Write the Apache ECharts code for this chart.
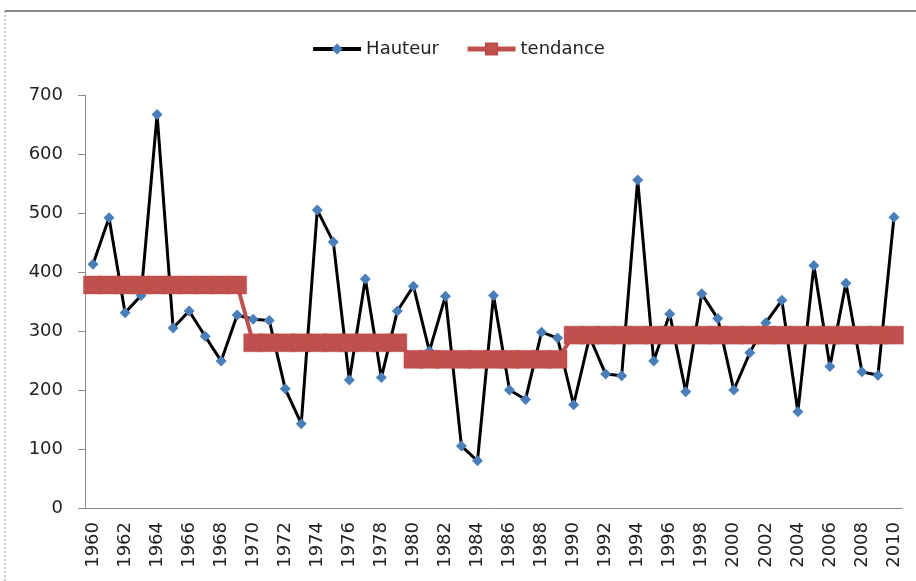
<!DOCTYPE html>
<html>
<head>
<meta charset="utf-8">
<script src="https://cdn.jsdelivr.net/npm/echarts@6/dist/echarts.min.js"></script>
<style>
  html, body { margin: 0; padding: 0; background: #fff; }
  #main { width: 916px; height: 581px; }
</style>
</head>
<body>
<div id="main"></div>
<script>
// annees 1960 - 2010
var years = [];
for (var y = 1960; y <= 2010; y++) years.push(String(y));

var hauteur = [
  413, 492, 331, 360, 667, 305, 334, 291, 249, 327,
  320, 318, 202, 143, 505, 451, 217, 388, 221, 334,
  376, 266, 359, 105, 80, 360, 200, 184, 298, 288,
  175, 290, 227, 224, 556, 249, 329, 197, 363, 321,
  200, 263, 314, 352, 163, 411, 240, 381, 231, 225, 493
];

// tendance par periode
var tendance = [
  378, 378, 378, 378, 378, 378, 378, 378, 378, 378,
  280, 280, 280, 280, 280, 280, 280, 280, 280, 280,
  252, 252, 252, 252, 252, 252, 252, 252, 252, 252,
  293, 293, 293, 293, 293, 293, 293, 293, 293, 293,
  293, 293, 293, 293, 293, 293, 293, 293, 293, 293, 293
];

var yTicks = { min: 0, max: 700, interval: 100 };

var font = 'DejaVu Sans';
var chart = echarts.init(document.getElementById('main'));

var option = {
  animation: false,
  backgroundColor: '#fff',
  graphic: [
    { type: 'line', shape: { x1: 5, y1: 11, x2: 916, y2: 11 },
      style: { stroke: '#8a8a8a', lineWidth: 2 } },
    { type: 'line', shape: { x1: 5, y1: 11, x2: 5, y2: 581 },
      style: { stroke: '#9a9a9a', lineWidth: 1, lineDash: [2, 2] } }
  ],
  legend: {
    top: 35,
    left: 'center',
    itemWidth: 48,
    itemHeight: 14,
    itemGap: 26,
    textStyle: { fontFamily: font, fontSize: 18, color: '#222' },
    data: [
      { name: 'Hauteur', lineStyle: { width: 4 } },
      { name: 'tendance', lineStyle: { width: 5 } }
    ]
  },
  grid: { left: 85, right: 14, top: 95, bottom: 73 },
  xAxis: {
    type: 'category',
    data: years,
    boundaryGap: true,
    axisLine: { lineStyle: { color: '#8c8c8c', width: 1 } },
    axisTick: { interval: 0, length: 6, lineStyle: { color: '#8c8c8c' } },
    axisLabel: {
      interval: 1, rotate: 90, margin: 14,
      fontFamily: font, fontSize: 18, color: '#222'
    },
    splitLine: { show: false }
  },
  yAxis: {
    type: 'value',
    min: yTicks.min, max: yTicks.max, interval: yTicks.interval,
    axisLine: { show: true, lineStyle: { color: '#8c8c8c', width: 1 } },
    axisTick: { show: true, length: 7, lineStyle: { color: '#8c8c8c' } },
    axisLabel: { margin: 22, fontFamily: font, fontSize: 18, color: '#222' },
    splitLine: { show: false }
  },
  series: [
    {
      name: 'Hauteur',
      type: 'line',
      data: hauteur,
      symbol: 'diamond',
      symbolSize: 11,
      showAllSymbol: true,
      z: 2,
      lineStyle: { color: '#000', width: 3 },
      itemStyle: { color: '#4A7EBB' }
    },
    {
      name: 'tendance',
      type: 'line',
      data: tendance,
      symbol: 'rect',
      symbolSize: [19, 18],
      showAllSymbol: true,
      z: 3,
      lineStyle: { color: '#C0504D', width: 4 },
      itemStyle: { color: '#C0504D', borderColor: '#BC4C49', borderWidth: 0.4 }
    }
  ]
};

chart.setOption(option);
</script>
</body>
</html>
